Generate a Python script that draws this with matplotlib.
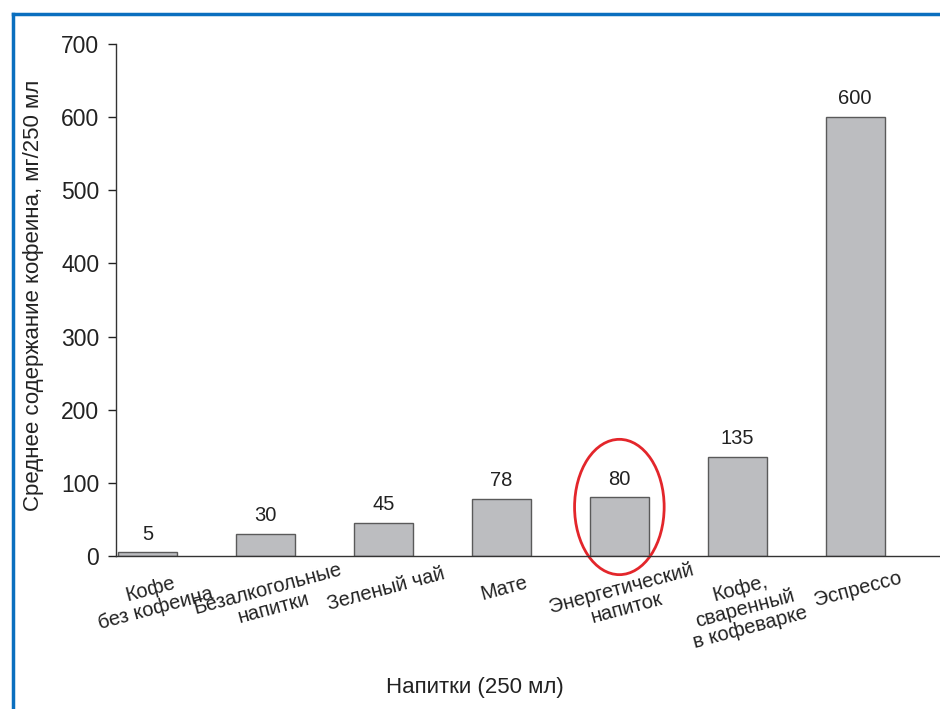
import matplotlib
matplotlib.use("Agg")
import matplotlib.pyplot as plt
from matplotlib.patches import Ellipse
from matplotlib.lines import Line2D
from matplotlib import font_manager

drinks = [
    "Кофе\nбез кофеина",
    "Безалкогольные\nнапитки",
    "Зеленый чай",
    "Мате",
    "Энергетический\nнапиток",
    "Кофе,\nсваренный\nв кофеварке",
    "Эспрессо",
]
caffeine = [5, 30, 45, 78, 80, 135, 600]
y_ticks = [0, 100, 200, 300, 400, 500, 600, 700]
highlight_index = 4

installed = {f.name for f in font_manager.fontManager.ttflist}
narrow = "Liberation Sans Narrow" if "Liberation Sans Narrow" in installed else "Liberation Sans"
plt.rcParams["font.family"] = ["Liberation Sans", "DejaVu Sans"]

fig = plt.figure(figsize=(9.4, 7.09), dpi=100)
ax = fig.add_axes([116 / 940, (709 - 556) / 709, (940 - 116) / 940, (556 - 44) / 709])

x = list(range(len(drinks)))
ax.bar(x, caffeine, width=0.5, color="#bcbdc0", edgecolor="#5a5a5a", linewidth=1.0)

for xi, v in zip(x, caffeine):
    ax.text(xi, v + 12, str(v), ha="center", va="bottom", fontsize=14.5, color="#222222")

ax.set_xlim(-0.27, 6.72)
ax.set_ylim(0, 700)
ax.set_yticks(y_ticks)
ax.tick_params(axis="y", direction="out", length=6, width=1, labelsize=16.5, pad=6, colors="#222222")
ax.tick_params(axis="x", length=0, pad=17)
ax.set_xticks(x)
ax.set_xticklabels(drinks, rotation=15, fontsize=14.5, ha="center", va="top",
                   rotation_mode="anchor", linespacing=1.08, color="#222222")

for side in ("top", "right"):
    ax.spines[side].set_visible(False)
ax.spines["left"].set_color("#333333")
ax.spines["bottom"].set_color("#333333")
ax.spines["left"].set_linewidth(1.0)
ax.spines["bottom"].set_linewidth(1.0)

ax.set_ylabel("Среднее содержание кофеина, мг/250 мл", fontsize=16, family=narrow,
              color="#222222")
ax.yaxis.set_label_coords(-0.087, 0.51)
fig.text(475 / 940, 1 - 688 / 709, "Напитки (250 мл)", fontsize=16, family=narrow,
         ha="center", va="center", color="#222222")

# Red ellipse around the energy drink bar
ax.add_patch(Ellipse((highlight_index, 67), width=0.76, height=185, fill=False,
                     edgecolor="#e3262b", linewidth=2.0, clip_on=False))

# Blue frame along the top and left edges
blue = "#0a6fbf"
fig.add_artist(Line2D([13 / 940, 1.0], [1 - 14 / 709, 1 - 14 / 709], color=blue, linewidth=2.5,
                      transform=fig.transFigure))
fig.add_artist(Line2D([13 / 940, 13 / 940], [0, 1 - 14 / 709], color=blue, linewidth=2.5,
                      transform=fig.transFigure))

fig.savefig("out.png", dpi=100)
